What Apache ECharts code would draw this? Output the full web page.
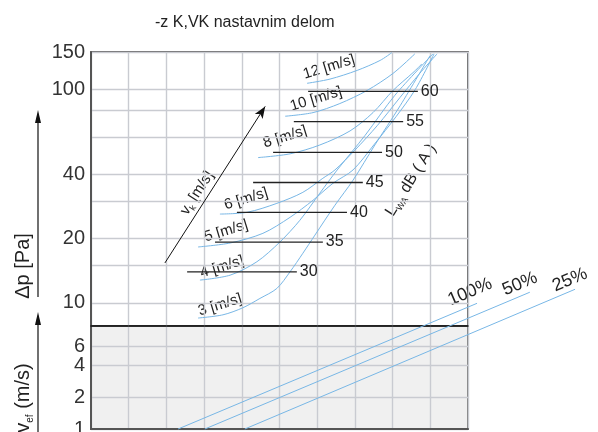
<!DOCTYPE html>
<html>
<head>
<meta charset="utf-8">
<script src="https://cdn.jsdelivr.net/npm/echarts@6/dist/echarts.min.js"></script>
<style>
html, body { margin: 0; padding: 0; background: #fff; }
#chart { width: 598px; height: 432px; }
</style>
</head>
<body>
<div id="chart"></div>
<script>
// upper panel: pressure drop dp [Pa], log scale
const dpLabels = [10, 20, 40, 100, 150]
const dpLines = [10, 15, 20, 30, 40, 60, 80, 100, 150]
const dpMin = 7.8
const dpMax = 150
// lower panel: v_ef [m/s], log scale (two label sets so neighbours are not dropped)
const vefLabels = [1, 2, 4]
const vefLabelsTop = [6]
const vefMin = 1
const vefMax = 9.4

// face velocity curves, [x, dp]
const speedNames = ['3 [m/s]', '4 [m/s]', '5 [m/s]', '6 [m/s]', '8 [m/s]', '10 [m/s]', '12 [m/s]']
const speed3 = [[2.84, 8.5], [3.5, 8.8], [4.03, 9.5], [4.48, 10.5], [4.93, 11.7], [5.28, 14.0], [5.62, 17.1], [5.94, 20.8], [6.47, 28.7], [6.95, 37.6], [7.53, 55], [8.2, 84], [8.99, 144]]
const speed4 = [[2.89, 12.8], [3.69, 13.5], [4.4, 15.6], [5.01, 19.3], [5.54, 24.4], [6.07, 32.7], [6.53, 42], [7.27, 61], [8.06, 94], [9.07, 147]]
const speed5 = [[2.84, 18.3], [3.69, 19.1], [4.56, 21.2], [5.28, 25.2], [5.89, 30.3], [6.42, 36.4], [6.95, 42], [7.5, 55], [8.1, 75], [8.6, 100], [9.1, 147]]
const speed6 = [[3.42, 26.1], [4.14, 26.6], [4.93, 29.3], [5.62, 33], [6.15, 38.4], [6.47, 42], [7.0, 52], [7.6, 68], [8.2, 92], [8.7, 118], [9.18, 147]]
const speed8 = [[4.43, 48], [5.28, 50], [6.07, 55], [6.87, 64], [7.48, 78], [8.01, 99], [8.54, 120], [8.78, 132]]
const speed10 = [[5.15, 75], [5.89, 78], [6.6, 86], [7.32, 99], [8.01, 119], [8.59, 147]]
const speed12 = [[5.73, 107], [6.34, 112], [7.06, 123], [7.67, 137], [7.98, 149]]
const speedCurves = [speed3, speed4, speed5, speed6, speed8, speed10, speed12]

// sound power levels L_WA dB(A)
const dbLevels = ['30', '35', '40', '45', '50', '55', '60']
const dbPressure = [14.0, 19.3, 26.6, 36.7, 50.8, 70.8, 98]
const dbFrom = [2.55, 3.29, 3.87, 4.30, 4.83, 5.38, 5.76]
const dbTo = [5.46, 6.15, 6.79, 7.21, 7.72, 8.28, 8.67]

// free area lines, [x, v_ef]
const openNames = ['100%', '50%', '25%']
const openStart = [[2.31, 1], [3.02, 1], [4.08, 1]]
const openEnd = [[10.24, 15.4], [11.64, 19.6], [12.84, 20.9]]

// v_k arrow, [x, dp]
const vkArrow = [[1.96, 15.4], [4.62, 83.4]]

const font = "'Liberation Sans', Arial, sans-serif"
const blue = '#78b7e6'
const gridLine = '#c9cbd1'
const lg = Math.log10

// plot box
const L = 91, W = 377, TOP = 52, MID = 326, BOT = 429
// hidden overlay grid for the free area lines: same scale as the lower panel, wider box
const ovTop = 226, ovW = 598 - L
const ovXMax = 10 * ovW / W
const ovYMax = lg(vefMax) * (BOT - ovTop) / (BOT - MID)

const series = []
speedCurves.forEach((c, i) => {
    series.push({
        name: speedNames[i],
        type: 'line',
        xAxisIndex: 0,
        yAxisIndex: 0,
        smooth: 0.3,
        showSymbol: false,
        silent: true,
        lineStyle: { color: blue, width: 1 },
        data: c.map(p => [p[0], lg(p[1])])
    })
})
dbLevels.forEach((name, i) => {
    series.push({
        name,
        type: 'line',
        xAxisIndex: 0,
        yAxisIndex: 0,
        showSymbol: false,
        silent: true,
        lineStyle: { color: '#222', width: 1.3 },
        endLabel: {
            show: true,
            formatter: name,
            distance: 3,
            fontFamily: font,
            fontSize: 16,
            color: '#222'
        },
        data: [[dbFrom[i], lg(dbPressure[i])], [dbTo[i], lg(dbPressure[i])]]
    })
})
openNames.forEach((name, i) => {
    series.push({
        name,
        type: 'line',
        xAxisIndex: 2,
        yAxisIndex: 3,
        showSymbol: false,
        silent: true,
        clip: false,
        lineStyle: { color: blue, width: 1 },
        data: [[openStart[i][0], lg(openStart[i][1])], [openEnd[i][0], lg(openEnd[i][1])]]
    })
})
series.push({
    type: 'line',
    xAxisIndex: 0,
    yAxisIndex: 0,
    data: [],
    markLine: {
        silent: true,
        animation: false,
        symbol: ['none', 'arrow'],
        symbolSize: [7, 12],
        label: { show: false },
        lineStyle: { color: '#111', width: 1, type: 'solid' },
        data: [[{ coord: [vkArrow[0][0], lg(vkArrow[0][1])] }, { coord: [vkArrow[1][0], lg(vkArrow[1][1])] }]]
    }
})

function xAxis(gridIndex, lineColor, lineWidth) {
    return {
        type: 'value',
        gridIndex,
        min: 0,
        max: 10,
        interval: 1,
        axisLabel: { show: false },
        axisTick: { show: false },
        axisLine: { show: true, lineStyle: { color: lineColor, width: lineWidth } },
        splitLine: { show: true, lineStyle: { color: gridLine, width: 1.4 } }
    }
}

function yAxis(gridIndex, min, max, labels, lines) {
    return {
        type: 'value',
        gridIndex,
        position: 'left',
        min: lg(min),
        max: lg(max),
        axisLine: { show: true, lineStyle: { color: '#555', width: 2 } },
        axisTick: { show: false, interval: 0, customValues: lines.map(lg) },
        axisLabel: {
            customValues: labels.map(lg),
            interval: 0,
            hideOverlap: false,
            formatter: v => Math.round(Math.pow(10, v)),
            fontFamily: font,
            fontSize: 20,
            color: '#333',
            margin: 6
        },
        splitLine: { show: true, interval: 0, lineStyle: { color: gridLine, width: 1.4 } }
    }
}

function rtext(text, x, y, deg, size, rich) {
    return {
        type: 'text',
        x,
        y,
        rotation: deg * Math.PI / 180,
        style: {
            text,
            font: size + 'px ' + font,
            fill: '#222',
            align: 'center',
            verticalAlign: 'middle',
            rich
        }
    }
}

const sub = (size, subSize) => ({
    m: { fontSize: size, fontFamily: font, color: '#222', lineHeight: size + 4, verticalAlign: 'middle' },
    s: { fontSize: subSize, fontFamily: font, color: '#222', lineHeight: size + 4, verticalAlign: 'bottom' }
})

const labelSpots = [[220, 305], [222, 267], [226, 231], [246, 199], [285, 137], [316, 99], [329, 67]]
const openSpots = [[470, 292], [520, 284], [570, 280]]

const graphic = [
    { type: 'line', shape: { x1: 38, y1: 297, x2: 38, y2: 118 }, style: { stroke: '#111', lineWidth: 1.2 } },
    { type: 'polygon', shape: { points: [[38, 110], [35, 123], [41, 123]] }, style: { fill: '#111' } },
    { type: 'line', shape: { x1: 38, y1: 432, x2: 38, y2: 320 }, style: { stroke: '#111', lineWidth: 1.2 } },
    { type: 'polygon', shape: { points: [[38, 312], [35, 325], [41, 325]] }, style: { fill: '#111' } },
    rtext('Δp [Pa]', 23, 266, 90, 20),
    rtext('{m|v}{s|ef} {m|(m/s)}', 23, 398, 90, 20, sub(20, 10)),
    rtext('{m|v}{s|k} {m|[m/s]}', 197, 193, 57, 15, sub(15, 9)),
    rtext('{m|L}{s|WA} {m|dB ( A )}', 411, 180, 58, 16, sub(16, 9))
]
speedNames.forEach((t, i) => graphic.push(rtext(t, labelSpots[i][0], labelSpots[i][1], 17, 15)))
openNames.forEach((t, i) => graphic.push(rtext(t, openSpots[i][0], openSpots[i][1], 23, 18)))

const chart = echarts.init(document.getElementById('chart'))
chart.setOption({
    animation: false,
    title: {
        text: '-z K,VK nastavnim delom',
        left: 150,
        top: 10,
        textStyle: { fontFamily: font, fontSize: 16, fontWeight: 'normal', color: '#222' }
    },
    grid: [
        { left: L, top: TOP, width: W, height: MID - TOP, outerBoundsMode: 'none', show: true, backgroundColor: '#fff', borderColor: '#333', borderWidth: 1.5 },
        { left: L, top: MID, width: W, height: BOT - MID, outerBoundsMode: 'none', show: true, backgroundColor: '#f0f0f0', borderColor: '#555', borderWidth: 1.5 },
        { left: L, top: ovTop, width: ovW, height: BOT - ovTop, outerBoundsMode: 'none', show: false }
    ],
    xAxis: [
        xAxis(0, '#111', 1.5),
        xAxis(1, '#555', 2),
        { type: 'value', gridIndex: 2, min: 0, max: ovXMax, show: false }
    ],
    yAxis: [
        yAxis(0, dpMin, dpMax, dpLabels, dpLines),
        yAxis(1, vefMin, vefMax, vefLabels, vefLabels),
        Object.assign(yAxis(1, vefMin, vefMax, vefLabelsTop, vefLabelsTop), { offset: 0 }),
        { type: 'value', gridIndex: 2, min: 0, max: ovYMax, show: false }
    ],
    graphic,
    series
})
</script>
</body>
</html>
